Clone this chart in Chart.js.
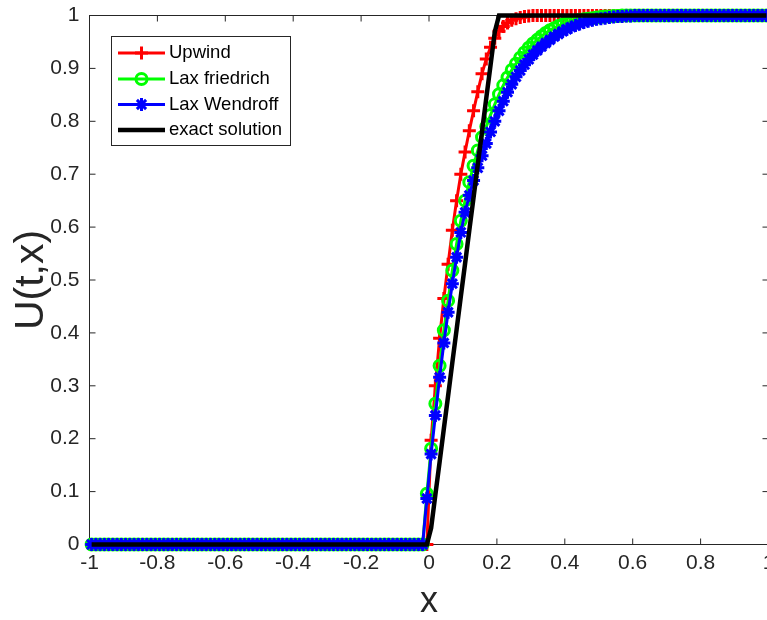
<!DOCTYPE html>
<html>
<head>
<meta charset="utf-8">
<script src="https://cdn.jsdelivr.net/npm/chart.js@4.4.0/dist/chart.umd.min.js"></script>
<style>
  html, body { margin: 0; padding: 0; overflow: hidden; background: #fff; }
  #wrap { width: 780px; height: 620px; }
</style>
</head>
<body>
<div id="wrap"><canvas id="myChart" width="780" height="620"></canvas></div>
<script>
// grid: 160 cells on [-1, 1], values sit at the cell centres
var xMin = -1;
var dx = 0.0125;

var xTicks = [-1, -0.8, -0.6, -0.4, -0.2, 0, 0.2, 0.4, 0.6, 0.8, 1];
var yTicks = [0, 0.1, 0.2, 0.3, 0.4, 0.5, 0.6, 0.7, 0.8, 0.9, 1];

var names = ['Upwind', 'Lax friedrich', 'Lax Wendroff', 'exact solution'];

var upwind = [
  0, 0, 0, 0, 0, 0, 0, 0, 0, 0, 0, 0, 0, 0, 0, 0, 0, 0, 0, 0,
  0, 0, 0, 0, 0, 0, 0, 0, 0, 0, 0, 0, 0, 0, 0, 0, 0, 0, 0, 0,
  0, 0, 0, 0, 0, 0, 0, 0, 0, 0, 0, 0, 0, 0, 0, 0, 0, 0, 0, 0,
  0, 0, 0, 0, 0, 0, 0, 0, 0, 0, 0, 0, 0, 0, 0, 0, 0, 0, 0, 0,
  0.197, 0.30, 0.39, 0.465, 0.53, 0.594, 0.65, 0.70, 0.742, 0.782, 0.82, 0.856, 0.89, 0.918, 0.94, 0.957, 0.97, 0.979, 0.986, 0.991,
  0.994, 0.996, 0.998, 0.999, 1, 1, 1, 1, 1, 1, 1, 1, 1, 1, 1, 1, 1, 1, 1, 1,
  1, 1, 1, 1, 1, 1, 1, 1, 1, 1, 1, 1, 1, 1, 1, 1, 1, 1, 1, 1,
  1, 1, 1, 1, 1, 1, 1, 1, 1, 1, 1, 1, 1, 1, 1, 1, 1, 1, 1, 1
];

var laxFriedrich = [
  0, 0, 0, 0, 0, 0, 0, 0, 0, 0, 0, 0, 0, 0, 0, 0, 0, 0, 0, 0,
  0, 0, 0, 0, 0, 0, 0, 0, 0, 0, 0, 0, 0, 0, 0, 0, 0, 0, 0, 0,
  0, 0, 0, 0, 0, 0, 0, 0, 0, 0, 0, 0, 0, 0, 0, 0, 0, 0, 0, 0,
  0, 0, 0, 0, 0, 0, 0, 0, 0, 0, 0, 0, 0, 0, 0, 0, 0, 0, 0, 0.096,
  0.181, 0.266, 0.338, 0.405, 0.461, 0.518, 0.568, 0.612, 0.65, 0.685, 0.716, 0.745, 0.77, 0.79, 0.812, 0.832, 0.851, 0.868, 0.883, 0.897,
  0.909, 0.92, 0.93, 0.939, 0.947, 0.954, 0.961, 0.967, 0.972, 0.976, 0.98, 0.983, 0.986, 0.988, 0.99, 0.992, 0.993, 0.994, 0.995, 0.996,
  0.997, 0.998, 0.998, 0.999, 0.999, 1, 1, 1, 1, 1, 1, 1, 1, 1, 1, 1, 1, 1, 1, 1,
  1, 1, 1, 1, 1, 1, 1, 1, 1, 1, 1, 1, 1, 1, 1, 1, 1, 1, 1, 1
];

var laxWendroff = [
  0, 0, 0, 0, 0, 0, 0, 0, 0, 0, 0, 0, 0, 0, 0, 0, 0, 0, 0, 0,
  0, 0, 0, 0, 0, 0, 0, 0, 0, 0, 0, 0, 0, 0, 0, 0, 0, 0, 0, 0,
  0, 0, 0, 0, 0, 0, 0, 0, 0, 0, 0, 0, 0, 0, 0, 0, 0, 0, 0, 0,
  0, 0, 0, 0, 0, 0, 0, 0, 0, 0, 0, 0, 0, 0, 0, 0, 0, 0, 0, 0.087,
  0.171, 0.244, 0.316, 0.381, 0.439, 0.493, 0.543, 0.59, 0.628, 0.66, 0.688, 0.712, 0.735, 0.758, 0.78, 0.8, 0.82, 0.838, 0.855, 0.87,
  0.884, 0.896, 0.907, 0.917, 0.926, 0.934, 0.941, 0.948, 0.954, 0.96, 0.965, 0.97, 0.974, 0.978, 0.981, 0.984, 0.987, 0.989, 0.991, 0.993,
  0.994, 0.995, 0.996, 0.997, 0.998, 0.998, 0.999, 0.999, 1, 1, 1, 1, 1, 1, 1, 1, 1, 1, 1, 1,
  1, 1, 1, 1, 1, 1, 1, 1, 1, 1, 1, 1, 1, 1, 1, 1, 1, 1, 1, 1
];

var exact = [
  0, 0, 0, 0, 0, 0, 0, 0, 0, 0, 0, 0, 0, 0, 0, 0, 0, 0, 0, 0,
  0, 0, 0, 0, 0, 0, 0, 0, 0, 0, 0, 0, 0, 0, 0, 0, 0, 0, 0, 0,
  0, 0, 0, 0, 0, 0, 0, 0, 0, 0, 0, 0, 0, 0, 0, 0, 0, 0, 0, 0,
  0, 0, 0, 0, 0, 0, 0, 0, 0, 0, 0, 0, 0, 0, 0, 0, 0, 0, 0, 0,
  0.031, 0.094, 0.156, 0.219, 0.281, 0.344, 0.406, 0.469, 0.531, 0.594, 0.656, 0.719, 0.781, 0.844, 0.906, 0.969, 1, 1, 1, 1,
  1, 1, 1, 1, 1, 1, 1, 1, 1, 1, 1, 1, 1, 1, 1, 1, 1, 1, 1, 1,
  1, 1, 1, 1, 1, 1, 1, 1, 1, 1, 1, 1, 1, 1, 1, 1, 1, 1, 1, 1,
  1, 1, 1, 1, 1, 1, 1, 1, 1, 1, 1, 1, 1, 1, 1, 1, 1, 1, 1, 1
];

function toPoints(values) {
  return values.map(function (v, i) {
    return { x: xMin + (i + 0.5) * dx, y: v };
  });
}

function fmt(v) {
  return String(Math.round(v * 10) / 10);
}

var axisColor = '#262626';
var fontFamily = "'Liberation Sans', Arial, sans-serif";

// matlab style box with inward ticks on all four sides
var boxPlugin = {
  id: 'boxPlugin',
  beforeDatasetsDraw: function (chart) {
    var ctx = chart.ctx;
    var a = chart.chartArea;
    var sx = chart.scales.x, sy = chart.scales.y;
    var tl = 6;
    ctx.save();
    ctx.strokeStyle = axisColor;
    ctx.lineWidth = 1;
    ctx.strokeRect(a.left, a.top, a.right - a.left, a.bottom - a.top);
    ctx.beginPath();
    xTicks.forEach(function (t) {
      var px = sx.getPixelForValue(t);
      ctx.moveTo(px, a.bottom); ctx.lineTo(px, a.bottom - tl);
      ctx.moveTo(px, a.top); ctx.lineTo(px, a.top + tl);
    });
    yTicks.forEach(function (t) {
      var py = sy.getPixelForValue(t);
      ctx.moveTo(a.left, py); ctx.lineTo(a.left + tl, py);
      ctx.moveTo(a.right, py); ctx.lineTo(a.right - tl, py);
    });
    ctx.stroke();
    ctx.restore();
  },
  afterDraw: function (chart) {
    var ctx = chart.ctx;
    var box = { x: 111.5, y: 36.5, w: 179, h: 109 };
    var rows = [53, 79, 104.5, 130];
    ctx.save();
    ctx.fillStyle = '#fff';
    ctx.fillRect(box.x, box.y, box.w, box.h);
    ctx.strokeStyle = axisColor;
    ctx.lineWidth = 1;
    ctx.strokeRect(box.x, box.y, box.w, box.h);
    chart.data.datasets.forEach(function (ds, i) {
      var y = rows[i];
      ctx.strokeStyle = ds.borderColor;
      ctx.lineWidth = ds.borderWidth;
      ctx.beginPath();
      ctx.moveTo(118, y);
      ctx.lineTo(165, y);
      ctx.stroke();
      if (ds.pointRadius > 0) {
        drawMarker(ctx, ds.pointStyle, 141.5, y, ds.pointRadius, ds.pointBorderWidth);
      }
      ctx.fillStyle = '#000';
      ctx.font = '18.5px ' + fontFamily;
      ctx.textBaseline = 'middle';
      ctx.textAlign = 'left';
      ctx.fillText(ds.label, 169, y);
    });
    ctx.restore();
  }
};

function drawMarker(ctx, style, x, y, r, w) {
  ctx.lineWidth = w;
  ctx.beginPath();
  if (style === 'circle') {
    ctx.arc(x, y, r, 0, Math.PI * 2);
  } else {
    ctx.moveTo(x - r, y); ctx.lineTo(x + r, y);
    ctx.moveTo(x, y - r); ctx.lineTo(x, y + r);
    if (style === 'star') {
      var d = r * Math.SQRT1_2;
      ctx.moveTo(x - d, y - d); ctx.lineTo(x + d, y + d);
      ctx.moveTo(x - d, y + d); ctx.lineTo(x + d, y - d);
    }
  }
  ctx.stroke();
}

var ctx = document.getElementById('myChart').getContext('2d');

var myChart = new Chart(ctx, {
  type: 'line',
  data: {
    datasets: [{
      label: names[0],
      data: toPoints(upwind),
      borderColor: '#ff0000',
      borderWidth: 3,
      pointStyle: 'cross',
      pointRadius: 6.5,
      pointBorderWidth: 3,
      pointBorderColor: '#ff0000',
      order: 3
    },
    {
      label: names[1],
      data: toPoints(laxFriedrich),
      borderColor: '#00ff00',
      borderWidth: 3,
      pointStyle: 'circle',
      pointRadius: 5.5,
      pointBorderWidth: 3,
      pointBorderColor: '#00ff00',
      pointBackgroundColor: 'rgba(0,0,0,0)',
      order: 2
    },
    {
      label: names[2],
      data: toPoints(laxWendroff),
      borderColor: '#0000ff',
      borderWidth: 3,
      pointStyle: 'star',
      pointRadius: 6.5,
      pointBorderWidth: 3,
      pointBorderColor: '#0000ff',
      order: 1
    },
    {
      label: names[3],
      data: toPoints(exact),
      borderColor: '#000000',
      borderWidth: 4.5,
      pointRadius: 0,
      order: 0
    }]
  },
  options: {
    responsive: false,
    animation: false,
    devicePixelRatio: 1,
    clip: false,
    layout: { padding: { top: 15.5, right: 11.5, left: 0, bottom: 0 } },
    plugins: { legend: { display: false }, tooltip: { enabled: false } },
    elements: { line: { tension: 0 } },
    datasets: { line: { clip: false } },
    scales: {
      x: {
        type: 'linear',
        min: -1,
        max: 1,
        afterFit: function (scale) {
          scale.height = 75.5;
          scale.paddingLeft = 0;
          scale.paddingRight = 0;
        },
        afterBuildTicks: function (scale) {
          scale.ticks = xTicks.map(function (v) { return { value: v }; });
        },
        grid: { display: false, drawTicks: false },
        border: { display: false },
        ticks: {
          color: axisColor,
          font: { family: fontFamily, size: 21 },
          padding: 6,
          maxRotation: 0,
          autoSkip: false,
          callback: fmt
        },
        title: {
          display: true,
          text: 'x',
          color: axisColor,
          font: { family: fontFamily, size: 36, lineHeight: 1 },
          padding: { top: 0, bottom: 0 }
        }
      },
      y: {
        type: 'linear',
        min: 0,
        max: 1,
        afterFit: function (scale) {
          scale.width = 89.5;
          scale.paddingTop = 0;
          scale.paddingBottom = 0;
        },
        afterBuildTicks: function (scale) {
          scale.ticks = yTicks.map(function (v) { return { value: v }; });
        },
        grid: { display: false, drawTicks: false },
        border: { display: false },
        ticks: {
          color: axisColor,
          font: { family: fontFamily, size: 21 },
          padding: 10,
          autoSkip: false,
          callback: fmt
        },
        title: {
          display: true,
          text: 'U(t,x)',
          color: axisColor,
          font: { family: fontFamily, size: 41, lineHeight: 1 },
          padding: { top: 11, bottom: 0 }
        }
      }
    }
  },
  plugins: [boxPlugin]
});
</script>
</body>
</html>
